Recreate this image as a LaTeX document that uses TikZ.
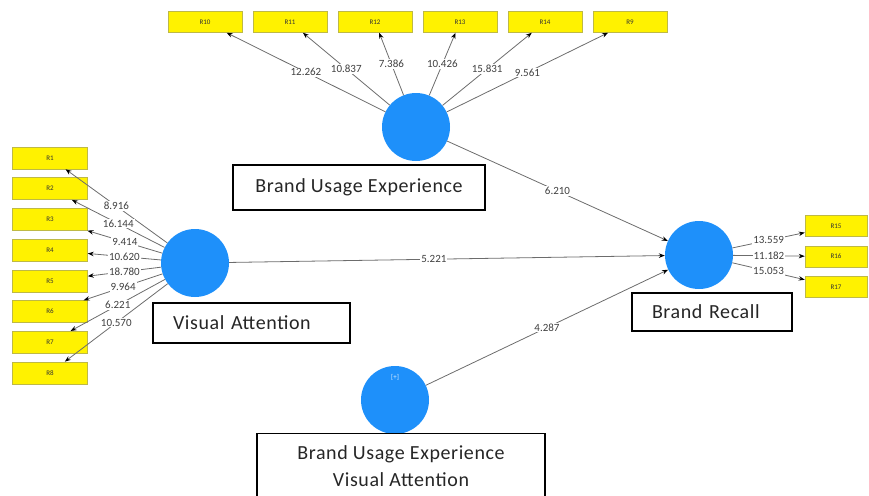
\documentclass[tikz,border=0pt]{standalone}
\usepackage{fontspec}
\setmainfont{Carlito}
\newfontfamily\tagfont[LetterSpace=3]{Carlito}
\usetikzlibrary{positioning, arrows.meta}

\definecolor{lvblue}{RGB}{30,144,250}
\definecolor{itemedge}{RGB}{190,185,70}

\begin{document}
\begin{tikzpicture}[x=1pt, y=-1pt,
    latent/.style={circle, fill=lvblue, minimum size=68pt, inner sep=0pt},
    item/.style={rectangle, fill=yellow, draw=itemedge, line width=0.5pt,
        minimum width=74pt, minimum height=21pt, inner sep=0pt,
        font=\fontsize{7}{8}\selectfont, text=black!80},
    tag/.style={rectangle, draw=black, line width=1.1pt, fill=white,
        font=\tagfont\fontsize{20}{27}\selectfont, text=black!85, align=center},
    link/.style={draw=gray!85!black, line width=0.8pt,
        -{Stealth[length=6pt, width=4.5pt, black]}},
    coef/.style={midway, fill=white, inner sep=1pt,
        font=\fontsize{11}{12}\selectfont, text=black!75}]
    \useasboundingbox (0,0) rectangle (869,495);

    % latent variables
    \node[latent] (BUE) at (416,127) {};
    \node[latent] (VA)  at (195,263) {};
    \node[latent] (BR)  at (699,255) {};
    \node[latent] (MOD) at (395,400) {};
    \node[font=\fontsize{7}{8}\selectfont, text=white!85!lvblue, below=5pt of MOD.north] (plus) {[+]};

    % construct names
    \node[tag, minimum width=252pt, minimum height=45pt] (BUEname) at (359,187.5) {Brand Usage Experience};
    \node[tag, align=left, inner xsep=20pt, text width=157pt, minimum height=40pt] (VAname) at (251.5,323) {Visual Attention};
    \node[tag, align=left, inner xsep=20pt, text width=120pt, minimum height=38pt] (BRname) at (712,312) {Brand Recall};
    \node[tag, minimum width=288pt, minimum height=66pt, anchor=north] (MODname) at (401,433)
        {Brand Usage Experience\\Visual Attention};

    % indicators of Brand Usage Experience
    \node[item] (R10) at (205,22) {R10};
    \node[item, right=10.5pt of R10] (R11) {R11};
    \node[item, right=10.5pt of R11] (R12) {R12};
    \node[item, right=10.5pt of R12] (R13) {R13};
    \node[item, right=10.5pt of R13] (R14) {R14};
    \node[item, right=10.5pt of R14] (R9)  {R9};

    % indicators of Visual Attention
    \node[item, minimum width=75pt, minimum height=22pt] (R1) at (50,158) {R1};
    \foreach \i [remember=\i as \j (initially 1)] in {2,...,8}
        \node[item, minimum width=75pt, minimum height=22pt, below=8.2pt of R\j] (R\i) {R\i};

    % indicators of Brand Recall
    \node[item, minimum width=62pt] (R15) at (836,226) {R15};
    \node[item, minimum width=62pt, below=9pt of R15] (R16) {R16};
    \node[item, minimum width=62pt, below=9pt of R16] (R17) {R17};

    % outer model
    \foreach \r/\v in {R10/12.262, R11/10.837, R12/7.386, R13/10.426, R14/15.831, R9/9.561}
        \draw[link] (BUE) -- node[coef] {\v} (\r);
    \foreach \r/\v in {R1/8.916, R2/16.144, R3/9.414, R4/10.620, R5/18.780, R6/9.964, R7/6.221, R8/10.570}
        \draw[link] (VA) -- node[coef] {\v} (\r);
    \foreach \r/\v in {R15/13.559, R16/11.182, R17/15.053}
        \draw[link] (BR) -- node[coef] {\v} (\r);

    % inner model
    \draw[link] (BUE) -- node[coef] {6.210} (BR);
    \draw[link] (VA)  -- node[coef, pos=0.47] {5.221} (BR);
    \draw[link] (MOD) -- node[coef] {4.287} (BR);
\end{tikzpicture}
\end{document}
